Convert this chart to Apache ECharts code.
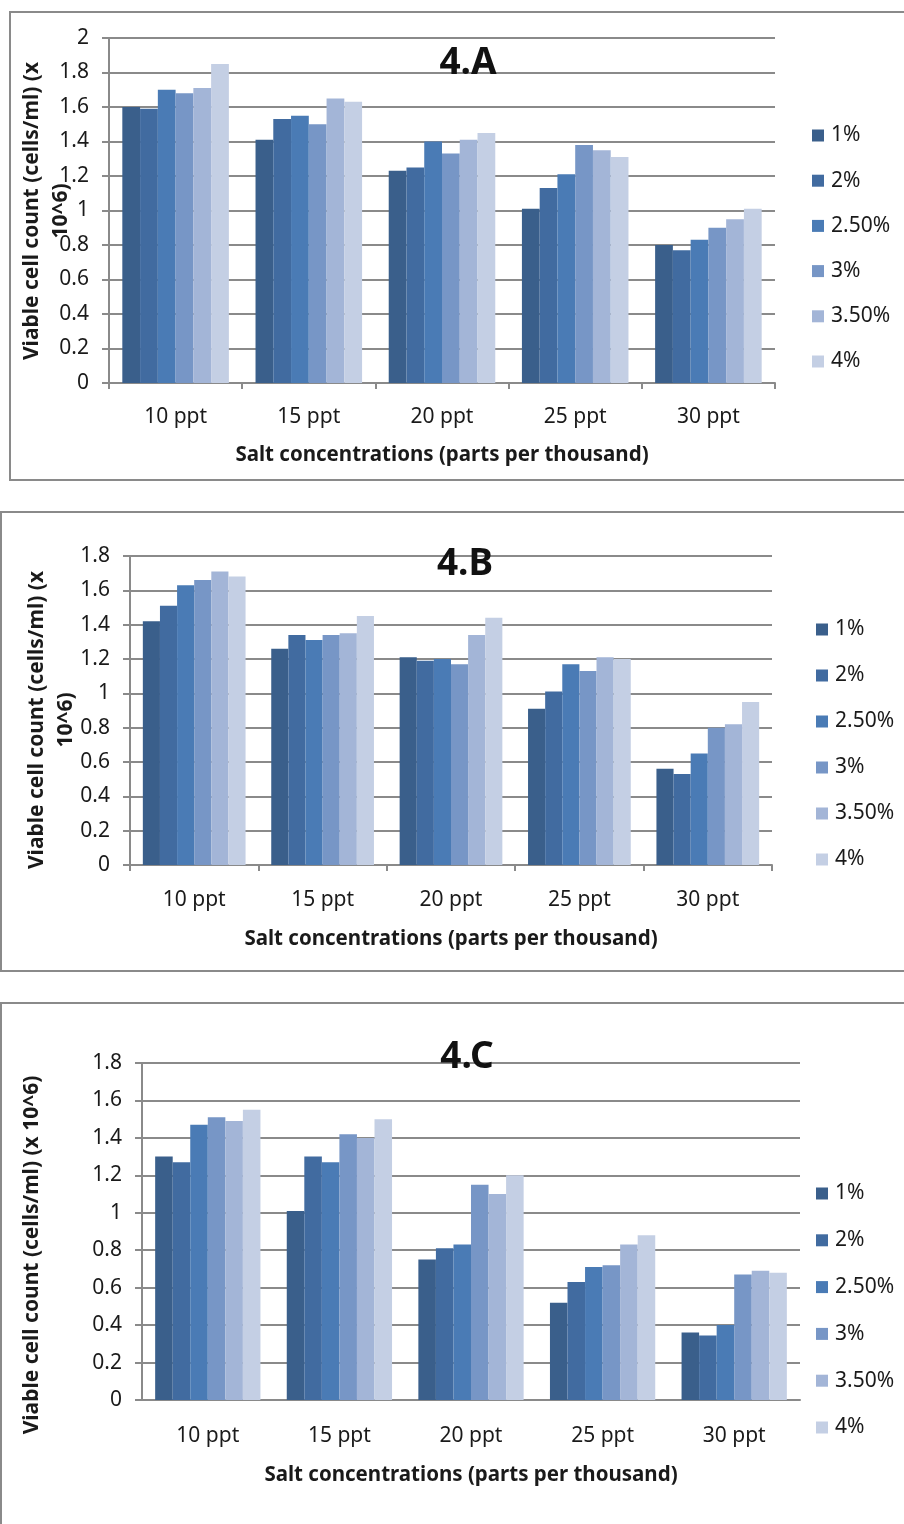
<!DOCTYPE html>
<html>
<head>
<meta charset="utf-8">
<script src="https://cdn.jsdelivr.net/npm/echarts@6/dist/echarts.min.js"></script>
<style>
html,body{margin:0;padding:0;background:#fff;}
#main{width:904px;height:1524px;}
</style>
</head>
<body>
<div id="main"></div>
<script>
// ---- data ----
const categories = ['10 ppt', '15 ppt', '20 ppt', '25 ppt', '30 ppt'];
const seriesNames = ['1%', '2%', '2.50%', '3%', '3.50%', '4%'];
const panelTitles = ['4.A', '4.B', '4.C'];
const yMaxes = [2, 1.8, 1.8];

// Panel 4.A values per series (10,15,20,25,30 ppt)
const A_1   = [1.60, 1.41, 1.23, 1.01, 0.80];
const A_2   = [1.59, 1.53, 1.25, 1.13, 0.77];
const A_25  = [1.70, 1.55, 1.40, 1.21, 0.83];
const A_3   = [1.68, 1.50, 1.33, 1.38, 0.90];
const A_35  = [1.71, 1.65, 1.41, 1.35, 0.95];
const A_4   = [1.85, 1.63, 1.45, 1.31, 1.01];

// Panel 4.B
const B_1   = [1.42, 1.26, 1.21, 0.91, 0.56];
const B_2   = [1.51, 1.34, 1.19, 1.01, 0.53];
const B_25  = [1.63, 1.31, 1.20, 1.17, 0.65];
const B_3   = [1.66, 1.34, 1.17, 1.13, 0.80];
const B_35  = [1.71, 1.35, 1.34, 1.21, 0.82];
const B_4   = [1.68, 1.45, 1.44, 1.20, 0.95];

// Panel 4.C
const C_1   = [1.30, 1.01, 0.75, 0.52, 0.36];
const C_2   = [1.27, 1.30, 0.81, 0.63, 0.345];
const C_25  = [1.47, 1.27, 0.83, 0.71, 0.40];
const C_3   = [1.51, 1.42, 1.15, 0.72, 0.67];
const C_35  = [1.49, 1.40, 1.10, 0.83, 0.69];
const C_4   = [1.55, 1.50, 1.20, 0.88, 0.68];

const yTitleA = 'Viable cell count (cells/ml) (x\n10^6)';
const yTitleB = 'Viable cell count (cells/ml) (x\n10^6)';
const yTitleC = 'Viable cell count (cells/ml) (x 10^6)';
const xTitle = 'Salt concentrations (parts per thousand)';

// ---- styling / layout ----
const panelValues = [
  [A_1, A_2, A_25, A_3, A_35, A_4],
  [B_1, B_2, B_25, B_3, B_35, B_4],
  [C_1, C_2, C_25, C_3, C_35, C_4]
];
const colors = ['#3A5F8B', '#416BA0', '#4A7BB5', '#7796C6', '#A3B5D7', '#C4CFE4'];
const FONT = 'Noto Sans';
const GRAY = '#8a8a8a';
const TXT = '#1a1a1a';

const grids = [
  {left: 109, top: 38, width: 666, height: 345},
  {left: 130, top: 556, width: 642, height: 309},
  {left: 142, top: 1063, width: 658, height: 337}
];
const xTicks = [true, true, false];
const labelMargins = [24, 25, 26];
const nameGaps = [62, 64, 65];
const legends = [
  {left: 807, top: 120, gap: 24.2},
  {left: 811, top: 614, gap: 25},
  {left: 811, top: 1178, gap: 25.8}
];
const titlePos = [
  {x: 463, y: 58},
  {x: 460, y: 559},
  {x: 462, y: 1052}
];
const yTitles = [
  {text: yTitleA, x: 47, y: 211},
  {text: yTitleB, x: 52, y: 720},
  {text: yTitleC, x: 32, y: 1255}
];
const boxes = [
  {x: 10, y: 12, w: 940, h: 468},
  {x: 1, y: 512, w: 950, h: 459},
  {x: 1, y: 1003, w: 950, h: 600}
];

const option = {
  animation: false,
  backgroundColor: '#fff',
  title: [], grid: [], xAxis: [], yAxis: [], legend: [], series: [], graphic: []
};

for (let p = 0; p < 3; p++) {
  const g = grids[p];
  option.grid.push(Object.assign({containLabel: false, outerBoundsMode: 'none'}, g));
  option.xAxis.push({
    type: 'category', gridIndex: p, data: categories,
    axisLine: {show: true, lineStyle: {color: GRAY, width: 2}},
    axisTick: {show: xTicks[p], length: 6, lineStyle: {color: GRAY, width: 2}},
    axisLabel: {color: TXT, fontFamily: FONT, fontSize: 21, margin: labelMargins[p], interval: 0},
    splitLine: {show: false},
    name: xTitle, nameLocation: 'middle', nameGap: nameGaps[p], nameMoveOverlap: false,
    nameTextStyle: {color: TXT, fontFamily: FONT, fontSize: 20.5, fontWeight: 'bold'}
  });
  option.yAxis.push({
    type: 'value', gridIndex: p, min: 0, max: yMaxes[p], interval: 0.2,
    axisLine: {show: true, lineStyle: {color: GRAY, width: 2}},
    axisTick: {show: true, length: 7, lineStyle: {color: GRAY, width: 2}},
    axisLabel: {color: TXT, fontFamily: FONT, fontSize: 21, margin: 20,
      formatter: v => String(Math.round(v * 10) / 10)},
    splitLine: {show: true, lineStyle: {color: GRAY, width: 2}}
  });
  option.title.push({
    text: panelTitles[p], left: titlePos[p].x, top: titlePos[p].y,
    textAlign: 'center', textVerticalAlign: 'middle',
    textStyle: {fontFamily: FONT, fontSize: 37, fontWeight: 'bold', color: '#111'}
  });
  option.legend.push({
    orient: 'vertical', left: legends[p].left, top: legends[p].top,
    itemGap: legends[p].gap, itemWidth: 12, itemHeight: 12, icon: 'rect',
    data: seriesNames,
    textStyle: {fontFamily: FONT, fontSize: 21, color: TXT, lineHeight: 20, padding: [0, 0, 0, 2]},
    selectedMode: false
  });
  for (let s = 0; s < 6; s++) {
    option.series.push({
      type: 'bar', name: seriesNames[s], xAxisIndex: p, yAxisIndex: p,
      data: panelValues[p][s], barGap: '0%', barCategoryGap: '20%',
      itemStyle: {color: colors[s]}, silent: true
    });
  }
  option.graphic.push({
    type: 'rect', z: -10, silent: true,
    shape: {x: boxes[p].x, y: boxes[p].y, width: boxes[p].w, height: boxes[p].h},
    style: {fill: 'none', stroke: GRAY, lineWidth: 2}
  });
  option.graphic.push({
    type: 'text', silent: true, x: yTitles[p].x, y: yTitles[p].y, rotation: Math.PI / 2,
    style: {text: yTitles[p].text, align: 'center', verticalAlign: 'middle',
      font: 'bold 21px "Noto Sans"', fill: TXT, lineHeight: 29}
  });
}

const chart = echarts.init(document.getElementById('main'), null, {renderer: 'canvas'});
chart.setOption(option);
</script>
</body>
</html>
